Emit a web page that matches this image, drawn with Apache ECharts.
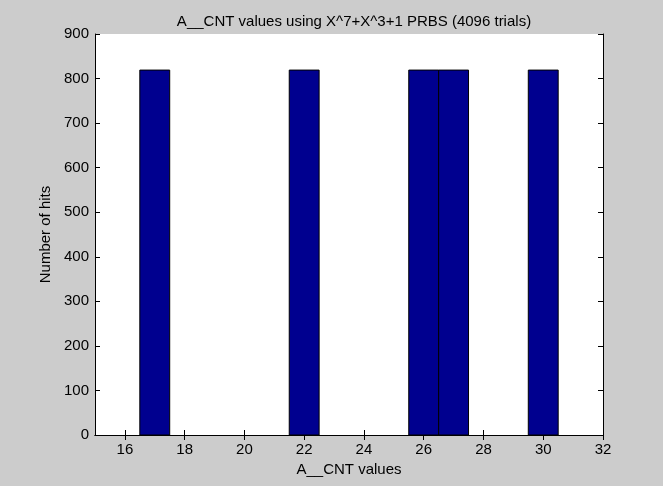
<!DOCTYPE html>
<html>
<head>
<meta charset="UTF-8">
<title>A__CNT histogram</title>
<script src="https://cdn.jsdelivr.net/npm/echarts@6/dist/echarts.min.js"></script>
<style>
html, body { margin: 0; padding: 0; background: #cccccc; }
#chart { width: 663px; height: 486px; }
</style>
</head>
<body>
<div id="chart"></div>
<script>
// histogram bins (centre value) and hit counts
var binCentres = [17, 22, 26, 27, 30];
var hits = [819, 819, 819, 819, 819];
var xTicks = [16, 18, 20, 22, 24, 26, 28, 30, 32];

var FONT = 'Liberation Sans';
var FS = 15;
var chart = echarts.init(document.getElementById('chart'));

var data = [];
for (var i = 0; i < binCentres.length; i++) {
    data.push([binCentres[i], hits[i]]);
}

function xAx(pos, labels) {
    return {
        type: 'value', position: pos, min: 15, max: 32,
        name: labels ? 'A__CNT values' : '',
        nameLocation: 'middle', nameGap: 25,
        nameTextStyle: { color: '#000', fontFamily: FONT, fontSize: FS },
        axisLine: { show: true, lineStyle: { color: '#000', width: 1 } },
        axisTick: { show: true, inside: true, length: 5, customValues: xTicks, lineStyle: { color: '#000' } },
        axisLabel: { show: labels, customValues: xTicks, margin: 7, color: '#000', fontFamily: FONT, fontSize: FS },
        splitLine: { show: false }
    };
}
function yAx(pos, labels) {
    return {
        type: 'value', position: pos, min: 0, max: 900, interval: 100,
        name: labels ? 'Number of hits' : '',
        nameLocation: 'middle', nameGap: 34,
        nameTextStyle: { color: '#000', fontFamily: FONT, fontSize: FS },
        axisLine: { show: true, lineStyle: { color: '#000', width: 1 } },
        axisTick: { show: true, inside: true, length: 5, lineStyle: { color: '#000' } },
        axisLabel: { show: labels, margin: 6, color: '#000', fontFamily: FONT, fontSize: FS },
        splitLine: { show: false }
    };
}

chart.setOption({
    backgroundColor: '#cccccc',
    animation: false,
    title: {
        text: 'A__CNT values using X^7+X^3+1 PRBS (4096 trials)',
        left: 349, top: 9, textAlign: 'center',
        textStyle: { color: '#000', fontFamily: FONT, fontSize: FS, fontWeight: 'normal' }
    },
    grid: { left: 95, top: 34, right: 60, bottom: 51, show: true, backgroundColor: '#fff', borderWidth: 0 },
    xAxis: [xAx('bottom', true), xAx('top', false)],
    yAxis: [yAx('left', true), yAx('right', false)],
    series: [{
        type: 'custom',
        data: data,
        renderItem: function (params, api) {
            var x = api.value(0), y = api.value(1);
            var p0 = api.coord([x - 0.5, y]);
            var p1 = api.coord([x + 0.5, 0]);
            return {
                type: 'rect',
                shape: { x: p0[0], y: p0[1], width: p1[0] - p0[0], height: p1[1] - p0[1] },
                style: { fill: '#00008f', stroke: '#000', lineWidth: 1 }
            };
        }
    }]
});
</script>
</body>
</html>
